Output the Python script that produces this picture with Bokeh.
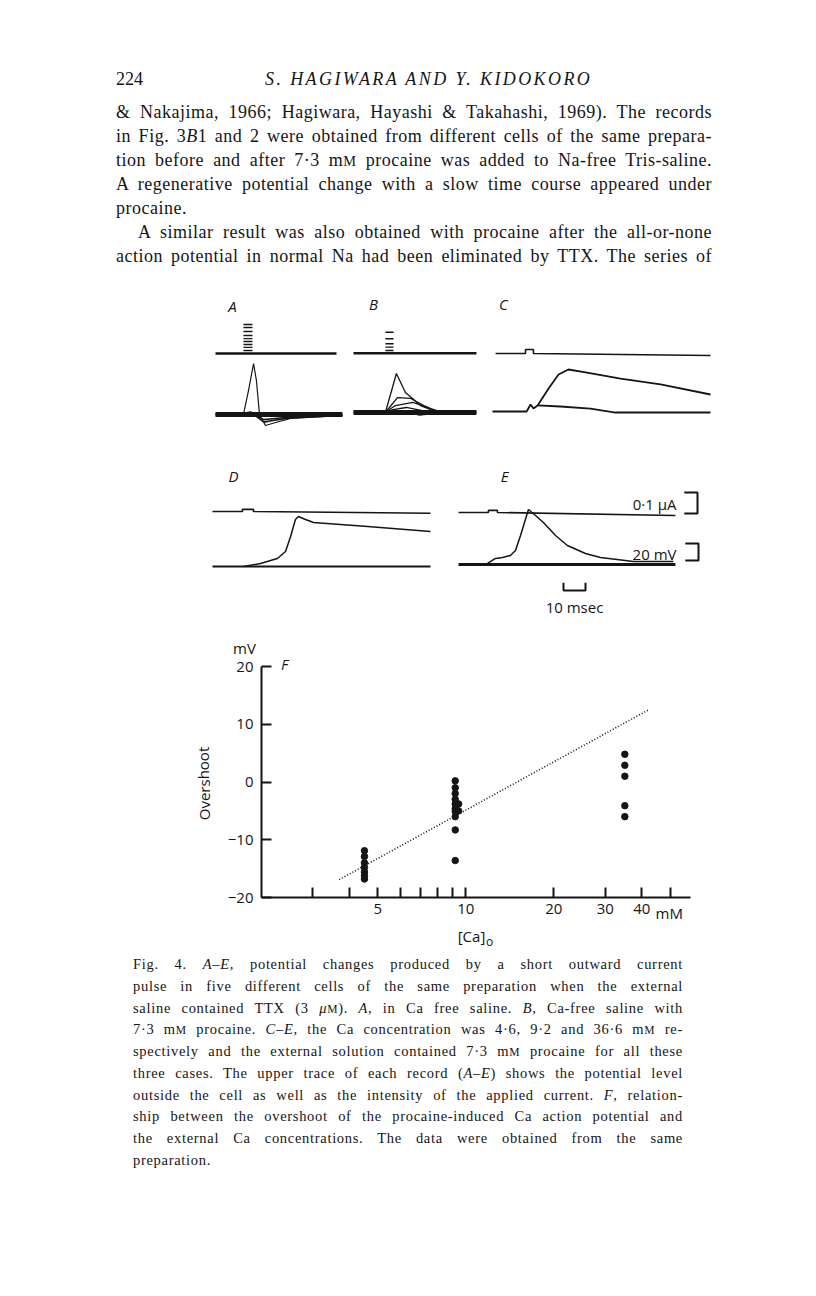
from bokeh.plotting import figure
from bokeh.models import Range1d, Label, FixedTicker, Div
from bokeh.layouts import column
from bokeh.embed import file_html
from bokeh.resources import INLINE

# ---------------- Panel F data (overshoot vs external Ca, log x) ----------------
ca_46 = [4.5, 4.5, 4.5, 4.5, 4.5, 4.5, 4.5]
ov_46 = [-11.9, -12.9, -14.0, -14.8, -15.6, -16.2, -16.8]
ca_92 = [9.2, 9.2, 9.2, 9.2, 9.2, 9.2, 9.2, 9.2, 9.2, 9.2, 9.45, 9.45]
ov_92 = [0.2, -1.0, -2.0, -3.0, -3.8, -4.6, -5.1, -6.0, -8.3, -13.6, -3.8, -5.0]
ca_366 = [35.0, 35.0, 35.0, 35.0, 35.0]
ov_366 = [4.8, 2.9, 1.0, -4.1, -6.0]
fit_ca = [3.69, 42.2]
fit_ov = [-16.9, 12.5]
x_major = [5, 10, 20, 30, 40]
x_minor = [3, 4, 6, 7, 8, 9, 50]
x_labels = {5: "5", 10: "10", 20: "20", 30: "30", 40: "40"}
y_ticks = [-20, -10, 0, 10, 20]
y_labels = {-20: "\u221220", -10: "\u221210", 0: "0", 10: "10", 20: "20"}
x_lo, x_hi = 2, 58.7
y_lo, y_hi = -20, 20

# ---------------- Panels A-E data (time in ms, potential in mV, current in uA) ----------------
A_stim_on, A_stim_off = 12.7, 16.8
A_stim = [0.014, 0.029, 0.043, 0.057, 0.071, 0.086, 0.105, 0.124, 0.138]
A_end = 55.0
A_t = [0, 12.7, 15.0, 17.3, 18.6, 20.0, 22.7, 27.3, 34.1, 57.7]
A_v = [0, 0, 28.2, 60, 40, 0, -12.9, -9.4, -4.7, -1.2]
A_sub_t = [0, 12.7, 14, 16, 19, 22, 26, 34, 57.7]
A_sub_v1 = [0, 0, 2, 3, -3, -9, -7, -4, -1]
A_sub_v2 = [0, 0, 1, 1.5, -2, -6, -5, -3, -0.5]

B_stim_on, B_stim_off = 14.5, 18.2
B_stim = [0.013, 0.029, 0.045, 0.069, 0.1]
B_end = 55.9
B_sweeps_t = [[0, 14.5, 19.5, 23.6, 30.5, 38.2, 55.9],
              [14.5, 20, 26, 32, 39],
              [14.5, 19, 27, 35, 41],
              [14.5, 18, 24, 33, 40],
              [14.5, 22, 30, 40]]
B_sweeps_v = [[0, 0, 45.9, 23.5, 8.2, 0, 0],
              [0, 17.6, 16.5, 8.2, 0],
              [0, 8.2, 11.8, 4.7, 0],
              [0, 3.5, 5.9, 1.2, -2],
              [0, 2, -3, 0]]

C_cur_t = [1.4, 15.0, 15.0, 18.6, 18.6, 99.1]
C_cur_i = [0, 0, 0.019, 0.019, 0, -0.0095]
C_up_t = [0, 15.5, 17.3, 18.6, 20.5, 25.5, 30, 34.5, 42.3, 58.2, 76.4, 99.1]
C_up_v = [0, 0, 8.2, 3.5, 7.1, 27.1, 43.5, 49.4, 45.9, 38.8, 31.8, 20]
C_lo_t = [20.5, 30.9, 44.5, 55.9, 99.1]
C_lo_v = [7.1, 5.9, 3.5, -1.2, -1.2]

D_cur_t = [0, 13.6, 13.6, 18.6, 18.6, 99.1]
D_cur_i = [0, 0, 0.01, 0.01, 0, -0.008]
D_lo_t = [0, 99.1]
D_lo_v = [0, 0]
D_up_t = [14.1, 21.8, 29.5, 33.2, 35.5, 37.7, 39.1, 42.3, 45.9, 70.5, 99.1]
D_up_v = [0, 3.5, 9.4, 17.6, 35.3, 55.3, 58.8, 55.3, 51.8, 47.1, 41.2]

E_cur_t = [0, 13.6, 13.6, 17.7, 17.7, 98.6]
E_cur_i = [0, 0, 0.01, 0.01, 0, -0.014]
E_lo_t = [0, 98.6]
E_lo_v = [0, 0]
E_up_t = [13.2, 16.8, 20, 23.6, 25.9, 28.2, 31.8, 35, 38.6, 44.1, 49.5, 57.7, 64.5, 79.5, 97.7]
E_up_v = [1.2, 7.1, 8.2, 10.6, 16.5, 34.1, 64.7, 57.6, 49.4, 34.1, 22.4, 12.9, 8.2, 3.5, 3.5]

SCALE_UA = 0.1
SCALE_MV = 20
SCALE_MS = 10

# ---------------- page text ----------------
header_num = "224"
header_title = "S. HAGIWARA AND Y. KIDOKORO"
sm = "<span style='font-size:0.8em'>M</span>"
body_lines = [
    "&amp; Nakajima, 1966; Hagiwara, Hayashi &amp; Takahashi, 1969). The records",
    "in Fig. 3<i>B</i>1 and 2 were obtained from different cells of the same prepara-",
    "tion before and after 7\u00b73 m" + sm + " procaine was added to Na-free Tris-saline.",
    "A regenerative potential change with a slow time course appeared under",
    "procaine.",
    "A similar result was also obtained with procaine after the all-or-none",
    "action potential in normal Na had been eliminated by TTX. The series of",
]
body_last = {4}
body_indent = {5}
caption_lines = [
    "Fig. 4. <i>A\u2013E</i>, potential changes produced by a short outward current",
    "pulse in five different cells of the same preparation when the external",
    "saline contained TTX (3 <i>\u03bc</i>" + sm + "). <i>A</i>, in Ca free saline. <i>B</i>, Ca-free saline with",
    "7\u00b73 m" + sm + " procaine. <i>C\u2013E</i>, the Ca concentration was 4\u00b76, 9\u00b72 and 36\u00b76 m" + sm + " re-",
    "spectively and the external solution contained 7\u00b73 m" + sm + " procaine for all these",
    "three cases. The upper trace of each record (<i>A\u2013E</i>) shows the potential level",
    "outside the cell as well as the intensity of the applied current. <i>F</i>, relation-",
    "ship between the overshoot of the procaine-induced Ca action potential and",
    "the external Ca concentrations. The data were obtained from the same",
    "preparation.",
]
caption_last = {9}

INK = "#151515"
SANS = "Open Sans"
SERIF = "Liberation Serif"
W = 808

# ---------------- top text block (page y 0..290) ----------------
top_h = 290
BODY_L, BODY_W = 116, 596
parts = ["<div style='position:relative;width:%dpx;height:%dpx;font-family:\"%s\";color:%s;'>" % (W, top_h, SERIF, INK)]
parts.append("<div style='position:absolute;left:%dpx;top:66.5px;font-size:18px;line-height:24px;'>%s</div>" % (BODY_L, header_num))
parts.append("<div style='position:absolute;left:265px;top:66.5px;font-size:18px;line-height:24px;font-style:italic;letter-spacing:2.4px;white-space:nowrap;'>%s</div>" % header_title)
for k, ln in enumerate(body_lines):
    top = 100.2 + 24 * k
    ind = 22 if k in body_indent else 0
    align = "left" if k in body_last else "justify"
    parts.append("<div style='position:absolute;left:%dpx;top:%.1fpx;width:%dpx;font-size:18px;line-height:24px;letter-spacing:0.5px;white-space:nowrap;text-align:%s;text-align-last:%s;'>%s</div>"
                 % (BODY_L + ind, top, BODY_W - ind, align, align, ln))
parts.append("</div>")
div_top = Div(text="".join(parts), width=W, height=top_h, margin=(0, 0, 0, 0))

# ---------------- traces figure (page y 290..625) ----------------
PX_MS = 2.2
PX_MV = 0.85
PX_UA = 210.0
TR_TOP = 290
TR_H = 335

def tx(px):
    return px / PX_MS

def vy(py):
    return (TR_TOP + TR_H - py) / PX_MV

pt = figure(width=W, height=TR_H, x_range=Range1d(0, W / PX_MS), y_range=Range1d(0, TR_H / PX_MV),
            x_axis_location=None, y_axis_location=None,
            min_border_left=0, min_border_right=0, min_border_top=0, min_border_bottom=0,
            output_backend="svg", toolbar_location=None, outline_line_color=None)
pt.grid.visible = False

LW = 1.6

def draw_v(ox, oy, t, v, lw=LW):
    pt.line([tx(ox) + a for a in t], [vy(oy) + b for b in v], line_color=INK, line_width=lw)

def draw_i(ox, oc, t, i, lw=LW):
    pt.line([tx(ox) + a for a in t], [vy(oc) + b * PX_UA / PX_MV for b in i], line_color=INK, line_width=lw)

# A
A_ox, A_oy, A_oc = 215, 414, 353
draw_i(A_ox, A_oc, [0, A_end], [0, 0], lw=2.6)
for lev in A_stim:
    draw_i(A_ox, A_oc, [A_stim_on, A_stim_off], [lev, lev], lw=1.4)
draw_v(A_ox, A_oy, [0, 57.7], [0, 0], lw=5)
draw_v(A_ox, A_oy, A_t, A_v, lw=1.2)
draw_v(A_ox, A_oy, A_sub_t, A_sub_v1, lw=1.6)
draw_v(A_ox, A_oy, A_sub_t, A_sub_v2, lw=1.6)
# B
B_ox, B_oy, B_oc = 353, 412, 352.7
draw_i(B_ox, B_oc, [0, B_end], [0, 0], lw=2.6)
for lev in B_stim:
    draw_i(B_ox, B_oc, [B_stim_on, B_stim_off], [lev, lev], lw=1.4)
draw_v(B_ox, B_oy, [0, B_end], [0, 0], lw=5)
for t, v in zip(B_sweeps_t, B_sweeps_v):
    draw_v(B_ox, B_oy, t, v, lw=1.3)
# C
C_ox, C_oy, C_oc = 492, 411, 353
draw_i(C_ox, C_oc, C_cur_t, C_cur_i)
draw_v(C_ox, C_oy, C_up_t, C_up_v, lw=1.8)
draw_v(C_ox, C_oy, C_lo_t, C_lo_v, lw=1.8)
# D
D_ox, D_oy, D_oc = 212, 566, 511
draw_i(D_ox, D_oc, D_cur_t, D_cur_i)
draw_v(D_ox, D_oy, D_lo_t, D_lo_v, lw=2)
draw_v(D_ox, D_oy, D_up_t, D_up_v, lw=1.5)
# E
E_ox, E_oy, E_oc = 458, 564, 512
draw_i(E_ox, E_oc, E_cur_t, E_cur_i)
draw_v(E_ox, E_oy, E_lo_t, E_lo_v, lw=3)
draw_v(E_ox, E_oy, E_up_t, E_up_v, lw=1.5)

# scale bars
ua_x, ua_bot = tx(697), vy(513)
ua_h = SCALE_UA * PX_UA / PX_MV
pt.line([ua_x - 6, ua_x, ua_x, ua_x - 6], [ua_bot, ua_bot, ua_bot + ua_h, ua_bot + ua_h], line_color=INK, line_width=2)
mv_x, mv_bot = tx(698), vy(560)
pt.line([mv_x - 6, mv_x, mv_x, mv_x - 6], [mv_bot, mv_bot, mv_bot + SCALE_MV, mv_bot + SCALE_MV], line_color=INK, line_width=2)
ms_x, ms_y = tx(563), vy(590)
pt.line([ms_x, ms_x, ms_x + SCALE_MS, ms_x + SCALE_MS], [ms_y + 9, ms_y, ms_y, ms_y + 9], line_color=INK, line_width=2)

def tlabel(text, px, py, size="15px", style="normal", align="center"):
    pt.add_layout(Label(x=tx(px), y=vy(py), text=text, text_font=SANS, text_font_size=size,
                        text_font_style=style, text_align=align, text_baseline="middle", text_color=INK))

tlabel("A", 232, 305, style="italic")
tlabel("B", 373, 303, style="italic")
tlabel("C", 503, 303, style="italic")
tlabel("D", 233, 475, style="italic")
tlabel("E", 504, 475, style="italic")
tlabel("0\u00b71 \u03bcA", 676, 503, align="right")
tlabel("20 mV", 676, 553, align="right")
tlabel("10 msec", 574, 606)

# ---------------- Panel F figure (page y 625..950) ----------------
F_TOP = 625
F_H = 325
AX_LEFT = 261      # page x of Ca = 2
PX_DEC = 292.3     # pixels per decade
AX_TOP = 666       # page y of +20 mV
PX_PER_MV = 5.775

def fx(px):
    return x_lo * 10 ** ((px - AX_LEFT) / PX_DEC)

def fy(py):
    return y_hi - (py - AX_TOP) / PX_PER_MV

pf = figure(x_axis_type="log", x_range=Range1d(fx(0), fx(W)), y_range=Range1d(fy(F_TOP + F_H), fy(F_TOP)),
            width=W, height=F_H,
            min_border_left=0, min_border_right=0, min_border_top=0, min_border_bottom=0,
            output_backend="svg", toolbar_location=None, outline_line_color=None)
pf.grid.visible = False

xa = pf.xaxis[0]
ya = pf.yaxis[0]
xa.fixed_location = y_lo
xa.bounds = (x_lo, x_hi)
ya.fixed_location = x_lo
ya.bounds = (y_lo, y_hi)
for ax in (xa, ya):
    ax.axis_line_width = 2
    ax.axis_line_color = INK
    ax.major_tick_in = 10
    ax.major_tick_out = 0
    ax.major_tick_line_width = 2
    ax.major_tick_line_color = INK
    ax.major_label_text_font = SANS
    ax.major_label_text_font_size = "15px"
    ax.major_label_text_color = INK
xa.ticker = FixedTicker(ticks=x_major, minor_ticks=x_minor)
xa.major_label_overrides = x_labels
xa.minor_tick_in = 10
xa.minor_tick_out = 0
xa.minor_tick_line_width = 2
xa.minor_tick_line_color = INK
xa.major_label_standoff = 6
ya.ticker = FixedTicker(ticks=y_ticks, minor_ticks=[])
ya.major_label_overrides = y_labels
ya.minor_tick_line_color = None
ya.major_label_standoff = 8

pf.line(fit_ca, fit_ov, line_color=INK, line_width=1.6, line_dash="1 2")
pf.scatter(ca_46, ov_46, size=6.5, color=INK)
pf.scatter(ca_92, ov_92, size=6.5, color=INK)
pf.scatter(ca_366, ov_366, size=6.5, color=INK)

def flabel(text, px, py, size="15px", style="normal", align="center", angle=0.0):
    pf.add_layout(Label(x=fx(px), y=fy(py), text=text, text_font=SANS, text_font_size=size,
                        text_font_style=style, text_align=align, text_baseline="middle",
                        text_color=INK, angle=angle))

flabel("mV", 244, 647)
flabel("F", 284, 663, style="italic")
flabel("Overshoot", 203, 783, angle=1.5708)
flabel("mM", 655, 912, align="left")
flabel("[Ca]", 471, 935)
flabel("o", 489, 941, size="12px")

# ---------------- caption (page y 950..1285) ----------------
cap_h = 335
cp = ["<div style='position:relative;width:%dpx;height:%dpx;font-family:\"%s\";color:%s;'>" % (W, cap_h, SERIF, INK)]
for k, ln in enumerate(caption_lines):
    top = 4.3 + 21.7 * k
    align = "left" if k in caption_last else "justify"
    cp.append("<div style='position:absolute;left:133px;top:%.1fpx;width:550px;font-size:14.5px;line-height:21.7px;letter-spacing:0.7px;white-space:nowrap;text-align:%s;text-align-last:%s;'>%s</div>"
              % (top, align, align, ln))
cp.append("</div>")
div_cap = Div(text="".join(cp), width=W, height=cap_h, margin=(0, 0, 0, 0))

page = column(div_top, pt, pf, div_cap, spacing=0)
open("out.html", "w").write(file_html(page, INLINE))
